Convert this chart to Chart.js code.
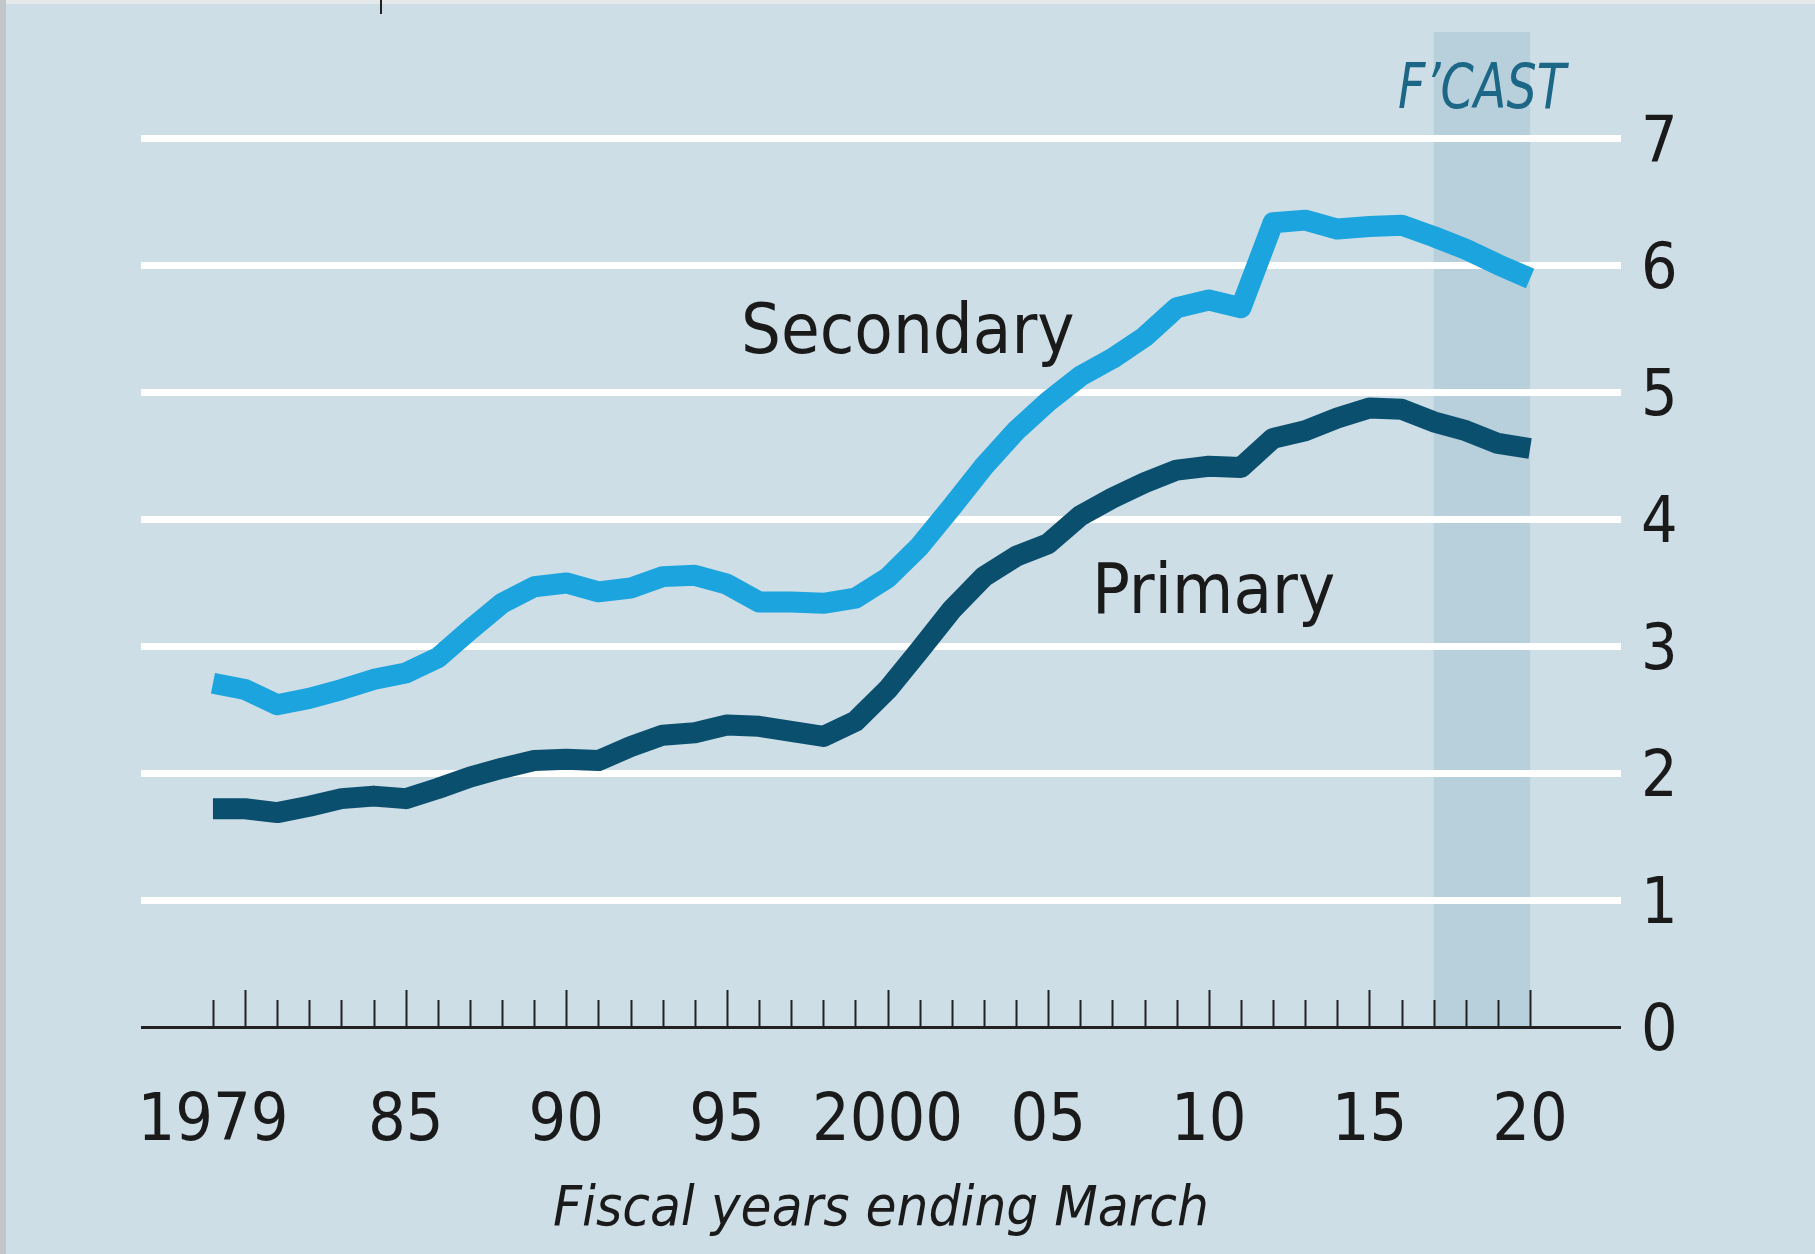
<!DOCTYPE html>
<html>
<head>
<meta charset="utf-8">
<script src="https://cdn.jsdelivr.net/npm/chart.js@4.4.1/dist/chart.umd.min.js"></script>
<style>
  html, body { margin: 0; padding: 0; background: #cddee7; }
  #wrap { width: 1815px; height: 1254px; }
</style>
</head>
<body>
<div id="wrap"><canvas id="chart" width="1815" height="1254"></canvas></div>
<script>
// fiscal years ending March
const years = [1979, 1980, 1981, 1982, 1983, 1984, 1985, 1986, 1987, 1988, 1989,
    1990, 1991, 1992, 1993, 1994, 1995, 1996, 1997, 1998, 1999,
    2000, 2001, 2002, 2003, 2004, 2005, 2006, 2007, 2008, 2009,
    2010, 2011, 2012, 2013, 2014, 2015, 2016, 2017, 2018, 2019, 2020];
const secondary = [2.71, 2.66, 2.54, 2.59, 2.66, 2.74, 2.79, 2.91, 3.13, 3.34, 3.47,
    3.50, 3.43, 3.46, 3.55, 3.56, 3.49, 3.35, 3.35, 3.34, 3.38,
    3.54, 3.79, 4.10, 4.42, 4.70, 4.93, 5.13, 5.27, 5.44, 5.67,
    5.73, 5.67, 6.34, 6.36, 6.29, 6.31, 6.32, 6.23, 6.13, 6.01, 5.90];
const primary = [1.72, 1.72, 1.69, 1.74, 1.80, 1.82, 1.80, 1.88, 1.97, 2.04, 2.10,
    2.11, 2.10, 2.21, 2.30, 2.32, 2.38, 2.37, 2.33, 2.29, 2.41,
    2.66, 2.97, 3.29, 3.55, 3.71, 3.81, 4.03, 4.17, 4.29, 4.39,
    4.42, 4.41, 4.64, 4.70, 4.80, 4.88, 4.87, 4.77, 4.70, 4.60, 4.56];
const yTicks = [0, 1, 2, 3, 4, 5, 6, 7];
const xLabels = { 1979: '1979', 1985: '85', 1990: '90', 1995: '95', 2000: '2000',
    2005: '05', 2010: '10', 2015: '15', 2020: '20' };
const forecastFrom = 2017;
const forecastTo = 2020;

const FONT = '"DejaVu Sans Condensed", "DejaVu Sans", sans-serif';
const INK = '#1a1a1a';

const toPoints = vals => vals.map((v, i) => ({ x: years[i], y: v }));

const decor = {
    id: 'decor',
    beforeDraw(chart) {
        const { ctx, chartArea, scales } = chart;
        const x = scales.x, y = scales.y;
        ctx.save();
        ctx.fillStyle = '#cddee7';
        ctx.fillRect(0, 0, chart.width, chart.height);
        ctx.fillStyle = '#e6e9ea';
        ctx.fillRect(0, 0, chart.width, 4);
        ctx.fillStyle = '#c2c6c8';
        ctx.fillRect(0, 0, 6, chart.height);
        // forecast band
        const x0 = x.getPixelForValue(forecastFrom), x1 = x.getPixelForValue(forecastTo);
        ctx.fillStyle = '#b8cfdc';
        ctx.fillRect(x0, chartArea.top, x1 - x0, y.getPixelForValue(0) - chartArea.top);
        ctx.restore();
    },
    afterDraw(chart) {
        const { ctx, scales } = chart;
        const x = scales.x, y = scales.y;
        const base = y.getPixelForValue(0);
        ctx.save();
        // year ticks pointing up from the axis
        ctx.strokeStyle = '#222';
        ctx.lineWidth = 2;
        years.forEach(yr => {
            const px = Math.round(x.getPixelForValue(yr)) + 0.5;
            const len = yr % 5 === 0 ? 37 : 27;
            ctx.beginPath();
            ctx.moveTo(px, base);
            ctx.lineTo(px, base - len);
            ctx.stroke();
        });
        // stray mark at top left
        ctx.beginPath();
        ctx.moveTo(381, 0);
        ctx.lineTo(381, 14);
        ctx.stroke();

        ctx.fillStyle = INK;
        ctx.textBaseline = 'alphabetic';
        ctx.textAlign = 'left';
        ctx.font = '70px ' + FONT;
        ctx.fillText('Secondary', 741, 353);
        ctx.fillText('Primary', 1092, 613);

        // forecast label
        const cx = (x.getPixelForValue(forecastFrom) + x.getPixelForValue(forecastTo)) / 2;
        ctx.fillStyle = '#1c6786';
        ctx.font = 'italic 63px ' + FONT;
        ctx.textAlign = 'center';
        ctx.translate(cx, 108);
        ctx.scale(0.84, 1);
        ctx.fillText('F\u2019CAST', 0, 0);
        ctx.restore();
    }
};

new Chart(document.getElementById('chart'), {
    type: 'line',
    data: {
        datasets: [
            { label: 'Secondary', data: toPoints(secondary), borderColor: '#1ca4de', borderWidth: 21 },
            { label: 'Primary', data: toPoints(primary), borderColor: '#0b4f6f', borderWidth: 21 }
        ]
    },
    options: {
        responsive: false,
        animation: false,
        events: [],
        layout: { padding: { left: 141, top: 32, right: 0, bottom: 0 } },
        elements: {
            point: { radius: 0 },
            line: { tension: 0, borderCapStyle: 'butt', borderJoinStyle: 'round' }
        },
        plugins: { legend: { display: false }, tooltip: { enabled: false } },
        scales: {
            x: {
                type: 'linear',
                min: 1976.76,
                max: 2022.83,
                grid: { display: false, drawTicks: false },
                border: { display: false },
                afterBuildTicks: s => { s.ticks = years.map(v => ({ value: v })); },
                afterFit: s => { s.height = 227; s.paddingLeft = 0; s.paddingRight = 0; },
                ticks: {
                    autoSkip: false,
                    maxRotation: 0,
                    padding: 56,
                    color: INK,
                    font: { family: FONT, size: 66 },
                    callback: v => xLabels[v] || ''
                },
                title: {
                    display: true,
                    text: 'Fiscal years ending March',
                    color: INK,
                    font: { family: FONT, size: 56, style: 'italic' },
                    padding: { top: 0, bottom: 10 }
                }
            },
            y: {
                position: 'right',
                min: 0,
                max: 7.843,
                grid: {
                    drawTicks: false,
                    color: c => c.tick && c.tick.value === 0 ? '#222' : '#ffffff',
                    lineWidth: c => c.tick && c.tick.value === 0 ? 3 : 7
                },
                border: { display: false },
                afterBuildTicks: s => { s.ticks = yTicks.map(v => ({ value: v })); },
                afterFit: s => { s.width = 194; s.paddingTop = 0; s.paddingBottom = 0; },
                ticks: {
                    padding: 20,
                    labelOffset: 6,
                    color: INK,
                    font: { family: FONT, size: 64 }
                }
            }
        }
    },
    plugins: [decor]
});
</script>
</body>
</html>
